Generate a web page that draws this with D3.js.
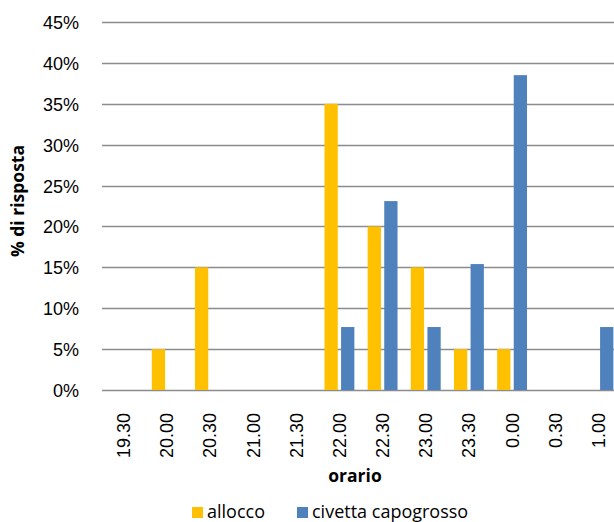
<!DOCTYPE html>
<html>
<head>
<meta charset="utf-8">
<script src="https://cdn.jsdelivr.net/npm/d3@7"></script>
<style>
  body { margin: 0; background: #fff; }
  svg { display: block; font-family: "Open Sans", sans-serif; }
</style>
</head>
<body>
<div id="chart"></div>
<script>
// orari (categorie) e percentuali di risposta
var orari = ["19.30", "20.00", "20.30", "21.00", "21.30", "22.00", "22.30", "23.00", "23.30", "0.00", "0.30", "1.00"];
var allocco = [0, 0.05, 0.15, 0, 0, 0.35, 0.20, 0.15, 0.05, 0.05, 0, 0];
var civetta = [0, 0, 0, 0, 0, 0.077, 0.231, 0.077, 0.154, 0.385, 0, 0.077];
var serie = ["allocco", "civetta capogrosso"];
var yTicks = [0, 0.05, 0.10, 0.15, 0.20, 0.25, 0.30, 0.35, 0.40, 0.45];

var width = 614, height = 522;
var margin = {top: 22, left: 102},
    plotRight = 620,
    plotBottom = 390;

var colors = d3.scaleOrdinal().domain(serie).range(["#ffc000", "#4f81bd"]);

var data = orari.map(function(o, i) {
  return {orario: o, values: [
    {key: "allocco", value: allocco[i]},
    {key: "civetta capogrosso", value: civetta[i]}
  ]};
});

var svg = d3.select("#chart").append("svg")
    .attr("width", width)
    .attr("height", height);

var x0 = d3.scaleBand()
    .domain(orari)
    .range([margin.left, plotRight]);

var x1 = d3.scaleBand()
    .domain(serie)
    .range([0, x0.bandwidth()])
    .paddingInner(0.2)
    .paddingOuter(0.4);

var y = d3.scaleLinear()
    .domain([0, 0.45])
    .range([plotBottom, margin.top]);

// griglia
svg.append("g")
    .selectAll("line")
    .data(yTicks)
    .enter().append("line")
    .attr("x1", margin.left)
    .attr("x2", plotRight)
    .attr("y1", function(d) { return Math.round(y(d)) + 0.5; })
    .attr("y2", function(d) { return Math.round(y(d)) + 0.5; })
    .style("stroke", "#8c8c8c")
    .style("stroke-width", 1.6);

// asse y
var yAxis = d3.axisLeft(y)
    .tickValues(yTicks)
    .tickFormat(d3.format(".0%"))
    .tickSize(0)
    .tickPadding(23);

svg.append("g")
    .attr("transform", "translate(" + margin.left + ",0)")
    .call(yAxis)
    .call(function(g) { g.select(".domain").remove(); })
    .selectAll("text")
    .style("font-size", "18px")
    .style("fill", "#000")
    .attr("dy", "0.36em");

// barre
svg.append("g")
    .selectAll("g")
    .data(data)
    .enter().append("g")
    .attr("transform", function(d) { return "translate(" + x0(d.orario) + ",0)"; })
    .selectAll("rect")
    .data(function(d) { return d.values.filter(function(v) { return v.value > 0; }); })
    .enter().append("rect")
    .attr("x", function(d) { return x1(d.key); })
    .attr("width", x1.bandwidth())
    .attr("y", function(d) { return y(d.value); })
    .attr("height", function(d) { return y(0) - y(d.value); })
    .style("fill", function(d) { return colors(d.key); });

// asse x
var xAxis = d3.axisBottom(x0).tickSize(0).tickPadding(0);

svg.append("g")
    .attr("transform", "translate(0," + plotBottom + ")")
    .call(xAxis)
    .call(function(g) { g.select(".domain").remove(); })
    .selectAll("text")
    .style("font-size", "18px")
    .style("fill", "#000")
    .attr("text-anchor", "end")
    .attr("transform", "rotate(-90)")
    .attr("x", -23)
    .attr("y", 0)
    .attr("dy", "0.36em");

// titoli assi
svg.append("text")
    .attr("x", 355)
    .attr("y", 482)
    .attr("text-anchor", "middle")
    .style("font-size", "17.5px")
    .style("font-weight", "bold")
    .text("orario");

svg.append("text")
    .attr("transform", "translate(24,201) rotate(-90)")
    .attr("text-anchor", "middle")
    .style("font-size", "17.5px")
    .style("font-weight", "bold")
    .text("% di risposta");

// legenda
var legendX = [192, 297];
var legend = svg.append("g")
    .selectAll("g")
    .data(serie)
    .enter().append("g")
    .attr("transform", function(d, i) { return "translate(" + legendX[i] + ",507)"; });

legend.append("rect")
    .attr("width", 11)
    .attr("height", 11)
    .style("fill", function(d) { return colors(d); });

legend.append("text")
    .attr("x", 15)
    .attr("y", 11)
    .style("font-size", "18px")
    .text(function(d) { return d; });
</script>
</body>
</html>
